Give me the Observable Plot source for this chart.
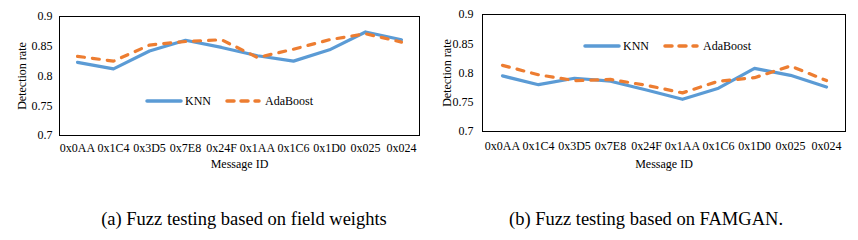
<!DOCTYPE html>
<html>
<head>
<meta charset="utf-8">
<script src="https://cdn.jsdelivr.net/npm/d3@7"></script>
<script src="https://cdn.jsdelivr.net/npm/@observablehq/plot@0.6"></script>
<style>
  body { margin: 0; background: #fff; font-family: 'Liberation Serif', 'Times New Roman', Times, 'DejaVu Serif', serif; }
  #wrap { position: relative; width: 858px; height: 240px; overflow: hidden; }
  .panel { position: absolute; top: 0; }
  .panel svg, .panel svg text { font-family: 'Liberation Serif', 'Times New Roman', Times, 'DejaVu Serif', serif !important; }
  .legend { position: absolute; font-size: 12px; color: #000; display: flex; align-items: center; white-space: nowrap; }
  .legend svg { display: block; }
  .cap { position: absolute; font-size: 18.5px; color: #000; white-space: nowrap; transform: translate(-50%, -50%); }
</style>
</head>
<body>
<div id="wrap"></div>
<script>
const messageIds = ["0x0AA", "0x1C4", "0x3D5", "0x7E8", "0x24F", "0x1AA", "0x1C6", "0x1D0", "0x025", "0x024"];
const yTicks = [0.7, 0.75, 0.8, 0.85, 0.9];
const seriesNames = ["KNN", "AdaBoost"];
// (a) Fuzz testing based on field weights
const knnA = [0.823, 0.812, 0.842, 0.860, 0.848, 0.834, 0.825, 0.844, 0.874, 0.861];
const adaA = [0.833, 0.825, 0.852, 0.858, 0.861, 0.831, 0.845, 0.861, 0.871, 0.857];
// (b) Fuzz testing based on FAMGAN
const knnB = [0.795, 0.780, 0.791, 0.786, 0.771, 0.755, 0.774, 0.808, 0.796, 0.776];
const adaB = [0.813, 0.797, 0.787, 0.789, 0.779, 0.766, 0.786, 0.792, 0.812, 0.787];
const captions = ["(a) Fuzz testing based on field weights", "(b) Fuzz testing based on FAMGAN."];

const colors = {KNN: "#5B9BD5", AdaBoost: "#ED7D31"};
const serif = "'Liberation Serif', 'Times New Roman', Times, 'DejaVu Serif', serif";
const wrap = document.getElementById("wrap");

function rows(name, vals) {
  return messageIds.map((id, i) => ({id, v: vals[i], s: name}));
}

function makePanel(cfg) {
  const knn = rows("KNN", cfg.knn);
  const ada = rows("AdaBoost", cfg.ada);
  const chart = Plot.plot({
    width: cfg.width,
    height: 175,
    marginLeft: cfg.ml,
    marginRight: cfg.mr,
    marginTop: cfg.mt,
    marginBottom: 175 - cfg.mb,
    style: {fontFamily: serif, fontSize: "12px", color: "#000", background: "transparent"},
    x: {type: "point", domain: messageIds, padding: 0.5},
    y: {domain: [0.7, 0.9]},
    marks: [
      Plot.axisX({tickSize: 0, tickPadding: cfg.xpad, label: "Message ID", labelAnchor: "center", labelArrow: "none", labelOffset: cfg.xlo, fontSize: 12}),
      Plot.axisY({ticks: yTicks, tickFormat: d => String(d), tickSize: 0, tickPadding: cfg.ypad, label: "Detection rate", labelAnchor: "center", labelArrow: "none", labelOffset: cfg.ylo, fontSize: 12}),
      Plot.line(knn, {x: "id", y: "v", stroke: colors.KNN, strokeWidth: 3.2, strokeLinejoin: "round", strokeLinecap: "round"}),
      Plot.line(ada, {x: "id", y: "v", stroke: colors.AdaBoost, strokeWidth: 3.2, strokeDasharray: "7,8", strokeLinecap: "round", strokeLinejoin: "round"}),
      Plot.frame({stroke: "#000", strokeWidth: 1})
    ]
  });
  const div = document.createElement("div");
  div.className = "panel";
  div.style.left = cfg.left + "px";
  div.appendChild(chart);
  wrap.appendChild(div);

  const lg = document.createElement("div");
  lg.className = "legend";
  lg.style.left = (cfg.left + cfg.legX) + "px";
  lg.style.top = (cfg.legY - 8) + "px";
  lg.style.height = "16px";
  lg.innerHTML =
    `<svg width="38" height="8"><line x1="2" x2="36" y1="4" y2="4" stroke="${colors.KNN}" stroke-width="3.5" stroke-linecap="round"/></svg>` +
    `<span style="margin-left:2px">${seriesNames[0]}</span>` +
    `<svg width="36" height="8" style="margin-left:${cfg.legGap}px"><line x1="2" x2="34" y1="4" y2="4" stroke="${colors.AdaBoost}" stroke-width="3.5" stroke-dasharray="7,7" stroke-linecap="round"/></svg>` +
    `<span style="margin-left:4px">${seriesNames[1]}</span>`;
  wrap.appendChild(lg);

  const cap = document.createElement("div");
  cap.className = "cap";
  cap.style.left = cfg.capX + "px";
  cap.style.top = "219px";
  cap.textContent = cfg.caption;
  wrap.appendChild(cap);
}

makePanel({left: 0, width: 429, ml: 59, mr: 10, mt: 16, mb: 135, xpad: 8, ypad: 7, xlo: 32, ylo: 42,
  knn: knnA, ada: adaA, legX: 145, legY: 101, legGap: 14, capX: 244, caption: captions[0]});
makePanel({left: 430, width: 428, ml: 52, mr: 13, mt: 14, mb: 131, xpad: 10, ypad: 9, xlo: 36, ylo: 40,
  knn: knnB, ada: adaB, legX: 153, legY: 46, legGap: 14, capX: 646, caption: captions[1]});
</script>
</body>
</html>
